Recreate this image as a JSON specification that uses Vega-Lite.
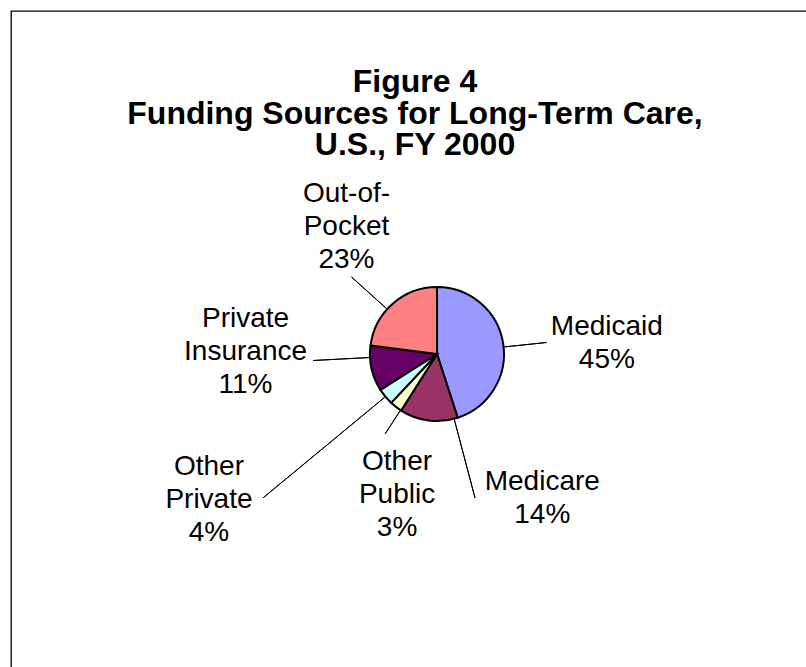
{
  "$schema": "https://vega.github.io/schema/vega-lite/v6.json",
  "autosize": "none",
  "padding": {"left": 11, "top": 11, "right": -57, "bottom": -30},
  "width": 852,
  "height": 686,
  "background": "white",
  "config": {"style": {"view": {"stroke": "black", "strokeWidth": 1.3}}},
  "title": {
    "text": ["Figure 4", "Funding Sources for Long-Term Care,", "U.S., FY 2000"],
    "font": "Liberation Sans",
    "fontSize": 32,
    "fontWeight": "bold",
    "color": "black",
    "lineHeight": 31.5,
    "anchor": "middle",
    "frame": "group",
    "baseline": "top",
    "dx": -22,
    "offset": -151
  },
  "data": {
    "values": [
      {"source": "Medicaid", "pct": 45, "order": 1, "label": "Medicaid\n45%"},
      {"source": "Medicare", "pct": 14, "order": 2, "label": "Medicare\n14%"},
      {"source": "Other Public", "pct": 3, "order": 3, "label": "Other\nPublic\n3%"},
      {"source": "Other Private", "pct": 4, "order": 4, "label": "Other\nPrivate\n4%"},
      {"source": "Private Insurance", "pct": 11, "order": 5, "label": "Private\nInsurance\n11%"},
      {"source": "Out-of-Pocket", "pct": 23, "order": 6, "label": "Out-of-\nPocket\n23%"}
    ]
  },
  "transform": [
    {"stack": "pct", "groupby": [], "sort": [{"field": "order"}], "as": ["s0", "s1"]}
  ],
  "layer": [
    {
      "mark": {"type": "arc", "radius": 67, "stroke": "black", "strokeWidth": 2},
      "encoding": {
        "theta": {"field": "s0", "type": "quantitative", "scale": {"domain": [0, 100]}},
        "theta2": {"field": "s1"},
        "color": {
          "field": "source",
          "type": "nominal",
          "scale": {
            "domain": ["Medicaid", "Medicare", "Other Public", "Other Private", "Private Insurance", "Out-of-Pocket"],
            "range": ["#9999FF", "#993366", "#FFFFCC", "#CCFFFF", "#660066", "#FF8080"]
          },
          "legend": null
        }
      }
    },
    {
      "transform": [{"filter": "datum.source === 'Medicaid'"}],
      "layer": [
        {"mark": {"type": "arc", "filled": false, "stroke": "black", "strokeWidth": 1, "radius": 110, "radius2": 68, "thetaOffset": 1.4661, "theta2Offset": 1.4661},
         "encoding": {"theta": {"field": "s0", "type": "quantitative"}, "theta2": {"field": "s0"}}},
        {"mark": {"type": "text", "font": "Liberation Sans", "fontSize": 28, "lineBreak": "\n", "lineHeight": 33, "align": "center", "baseline": "middle", "color": "black", "radius": 172, "thetaOffset": 1.4134},
         "encoding": {"theta": {"field": "s0", "type": "quantitative"}, "text": {"field": "label"}}}
      ]
    },
    {
      "transform": [{"filter": "datum.source === 'Medicare'"}],
      "layer": [
        {"mark": {"type": "arc", "filled": false, "stroke": "black", "strokeWidth": 1, "radius": 149, "radius2": 68, "thetaOffset": 0.0559, "theta2Offset": 0.0559},
         "encoding": {"theta": {"field": "s0", "type": "quantitative"}, "theta2": {"field": "s0"}}},
        {"mark": {"type": "text", "font": "Liberation Sans", "fontSize": 28, "lineBreak": "\n", "lineHeight": 33, "align": "center", "baseline": "middle", "color": "black", "radius": 166, "thetaOffset": -0.3728},
         "encoding": {"theta": {"field": "s0", "type": "quantitative"}, "text": {"field": "label"}}}
      ]
    },
    {
      "transform": [{"filter": "datum.source === 'Other Public'"}],
      "layer": [
        {"mark": {"type": "arc", "filled": false, "stroke": "black", "strokeWidth": 1, "radius": 95, "radius2": 68, "thetaOffset": 0.0105, "theta2Offset": 0.0105},
         "encoding": {"theta": {"field": "s0", "type": "quantitative"}, "theta2": {"field": "s0"}}},
        {"mark": {"type": "text", "font": "Liberation Sans", "fontSize": 28, "lineBreak": "\n", "lineHeight": 33, "align": "center", "baseline": "middle", "color": "black", "radius": 115, "thetaOffset": -0.2108},
         "encoding": {"theta": {"field": "s0", "type": "quantitative"}, "text": {"field": "label"}}}
      ]
    },
    {
      "transform": [{"filter": "datum.source === 'Other Private'"}],
      "layer": [
        {"mark": {"type": "arc", "filled": false, "stroke": "black", "strokeWidth": 1, "radius": 226, "radius2": 68, "thetaOffset": 0.1257, "theta2Offset": 0.1257},
         "encoding": {"theta": {"field": "s0", "type": "quantitative"}, "theta2": {"field": "s0"}}},
        {"mark": {"type": "text", "font": "Liberation Sans", "fontSize": 28, "lineBreak": "\n", "lineHeight": 33, "align": "center", "baseline": "middle", "color": "black", "radius": 254.5, "thetaOffset": 0.3567},
         "encoding": {"theta": {"field": "s0", "type": "quantitative"}, "text": {"field": "label"}}}
      ]
    },
    {
      "transform": [{"filter": "datum.source === 'Private Insurance'"}],
      "layer": [
        {"mark": {"type": "arc", "filled": false, "stroke": "black", "strokeWidth": 1, "radius": 124, "radius2": 68, "thetaOffset": 0.5131, "theta2Offset": 0.5131},
         "encoding": {"theta": {"field": "s0", "type": "quantitative"}, "theta2": {"field": "s0"}}},
        {"mark": {"type": "text", "font": "Liberation Sans", "fontSize": 28, "lineBreak": "\n", "lineHeight": 33, "align": "center", "baseline": "middle", "color": "black", "radius": 194.7, "thetaOffset": 0.7482},
         "encoding": {"theta": {"field": "s0", "type": "quantitative"}, "text": {"field": "label"}}}
      ]
    },
    {
      "transform": [{"filter": "datum.source === 'Out-of-Pocket'"}],
      "layer": [
        {"mark": {"type": "arc", "filled": false, "stroke": "black", "strokeWidth": 1, "radius": 115, "radius2": 68, "thetaOffset": 0.6074, "theta2Offset": 0.6074},
         "encoding": {"theta": {"field": "s0", "type": "quantitative"}, "theta2": {"field": "s0"}}},
        {"mark": {"type": "text", "font": "Liberation Sans", "fontSize": 28, "lineBreak": "\n", "lineHeight": 33, "align": "center", "baseline": "middle", "color": "black", "radius": 184.2, "thetaOffset": 0.9315},
         "encoding": {"theta": {"field": "s0", "type": "quantitative"}, "text": {"field": "label"}}}
      ]
    }
  ]
}
